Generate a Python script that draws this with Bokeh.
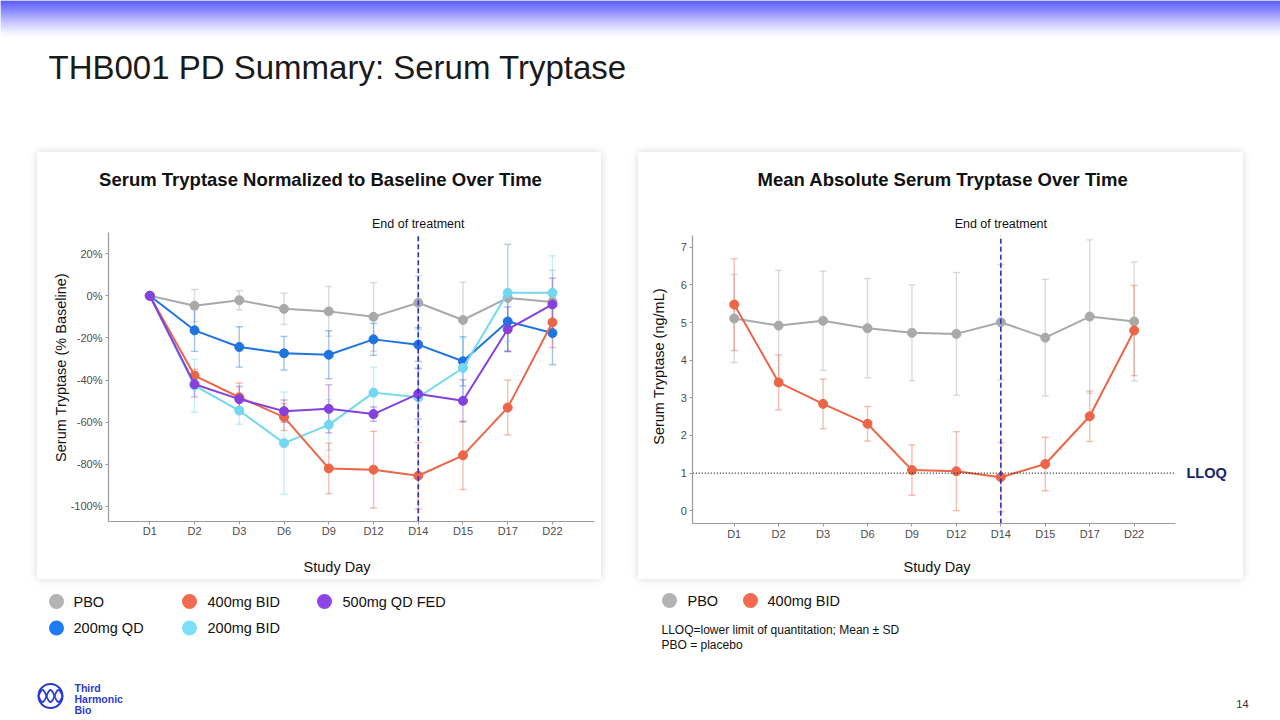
import numpy as np
from bokeh.plotting import figure
from bokeh.models import ColumnDataSource, Whisker, TeeHead, FixedTicker, Range1d, Spacer
from bokeh.layouts import column, row
from bokeh.embed import file_html
from bokeh.resources import INLINE
from bokeh.core.properties import value

FONT = "Liberation Sans"

# ---------------- data ----------------
days = ["D1", "D2", "D3", "D6", "D9", "D12", "D14", "D15", "D17", "D22"]
eot_day = "D14"
pct_ticks = [-100, -80, -60, -40, -20, 0, 20]
abs_ticks = [0, 1, 2, 3, 4, 5, 6, 7]
lloq = 1.0

# Normalized (% of baseline), mean and SD
norm_names = ["PBO", "200mg QD", "200mg BID", "400mg BID", "500mg QD FED"]
norm_pbo_mean = [0, -4.7, -2.1, -6.2, -7.4, -10.0, -3.3, -11.5, -1.0, -2.9]
norm_pbo_sd = [0, 7.7, 4.5, 7.4, 11.8, 16.3, 12.8, 18.0, 25.5, 15.0]
norm_200qd_mean = [0, -16.4, -24.3, -27.3, -28.0, -20.7, -23.2, -31.1, -12.2, -17.7]
norm_200qd_sd = [0, 10.0, 9.6, 8.0, 11.4, 7.6, 8.0, 11.7, 14.0, 15.0]
norm_200bid_mean = [0, -42.7, -54.5, -70.0, -61.3, -46.0, -48.2, -34.3, 1.4, 1.4]
norm_200bid_sd = [0, 12.6, 6.5, 24.3, 12.0, 12.0, 14.0, 14.0, 23.0, 17.6]
norm_400bid_mean = [0, -37.9, -48.2, -57.6, -82.0, -82.6, -85.5, -75.8, -53.1, -12.6]
norm_400bid_sd = [0, 3.0, 6.8, 6.4, 12.0, 18.2, 15.8, 16.2, 13.0, 12.0]
norm_500qd_mean = [0, -42.0, -49.1, -54.8, -53.7, -56.2, -46.6, -49.9, -15.9, -4.1]
norm_500qd_sd = [0, 6.0, 6.0, 5.3, 11.4, 3.4, 12.0, 10.0, 10.6, 12.5]

# Absolute (ng/mL), mean and SD
abs_names = ["PBO", "400mg BID"]
abs_pbo_mean = [5.11, 4.92, 5.05, 4.85, 4.73, 4.70, 5.01, 4.60, 5.16, 5.03]
abs_pbo_sd = [1.17, 1.47, 1.32, 1.32, 1.27, 1.63, 1.53, 1.55, 2.04, 1.58]
abs_400bid_mean = [5.48, 3.41, 2.84, 2.31, 1.08, 1.05, 0.89, 1.24, 2.51, 4.79]
abs_400bid_sd = [1.22, 0.73, 0.66, 0.46, 0.67, 1.05, 0.92, 0.71, 0.67, 1.20]

COL = {"PBO": "#a9a9a9", "200mg QD": "#1f74e0", "200mg BID": "#72d8f2",
       "400mg BID": "#ea6647", "500mg QD FED": "#8640de"}
LEG_COL = {"PBO": "#b3b3b3", "200mg QD": "#1e7cf0", "200mg BID": "#7be0f8",
           "400mg BID": "#f26b50", "500mg QD FED": "#8c46e8"}

xi = list(range(len(days)))
eot_x = days.index(eot_day)

AXIS_COL = "#9a9a9a"
TICK_TXT = "#4d4d4d"
TXT = "#111111"
DASH_COL = "#2a2fd0"


class PanelMap:
    """Maps page pixels to data units for a panel whose frame fills the panel box."""
    def __init__(self, left, top, width, height, x_px0, x_step, y_px0, y_step):
        self.left, self.top, self.width, self.height = left, top, width, height
        self.x_px0, self.x_step, self.y_px0, self.y_step = x_px0, x_step, y_px0, y_step

    def x(self, px):
        return (px - self.x_px0) / self.x_step

    def y(self, py):
        return (self.y_px0 - py) / self.y_step

    def ranges(self):
        return (Range1d(self.x(self.left), self.x(self.left + self.width)),
                Range1d(self.y(self.top + self.height), self.y(self.top)))


def make_panel(m, frame_l, frame_r, frame_t, frame_b, yticks, yover):
    xr, yr = m.ranges()
    p = figure(width=m.width, height=m.height, x_range=xr, y_range=yr,
               output_backend="svg", toolbar_location=None, min_border=0)
    p.xgrid.visible = False
    p.ygrid.visible = False
    p.outline_line_color = None
    p.background_fill_color = "white"
    p.border_fill_color = "white"
    xa, ya = p.xaxis[0], p.yaxis[0]
    xa.fixed_location = m.y(frame_b)
    xa.bounds = (m.x(frame_l), m.x(frame_r))
    ya.fixed_location = m.x(frame_l)
    ya.bounds = (m.y(frame_b), m.y(frame_t))
    xa.ticker = FixedTicker(ticks=xi)
    xa.major_label_overrides = {i: d for i, d in enumerate(days)}
    ya.ticker = FixedTicker(ticks=yticks)
    ya.major_label_overrides = yover
    for ax in (xa, ya):
        ax.axis_line_color = AXIS_COL
        ax.axis_line_width = 1.2
        ax.major_tick_line_color = AXIS_COL
        ax.major_tick_in = 0
        ax.major_tick_out = 3
        ax.minor_tick_line_color = None
        ax.major_label_text_font = FONT
        ax.major_label_text_font_size = "11px"
        ax.major_label_text_color = TICK_TXT
        ax.major_label_standoff = 3
    xa.major_label_standoff = 1
    p.styles = {"box-shadow": "0px 0px 8px rgba(0,0,0,0.16)"}
    return p


def add_series(p, mean, sd, color):
    ex = [x for x, s in zip(xi, sd) if s > 0]
    em = [mv for mv, s in zip(mean, sd) if s > 0]
    es = [s for s in sd if s > 0]
    src = ColumnDataSource(dict(x=ex, upper=[a + b for a, b in zip(em, es)],
                                lower=[a - b for a, b in zip(em, es)]))
    head = dict(size=7, line_color=color, line_alpha=0.42, line_width=1.4)
    p.add_layout(Whisker(base="x", upper="upper", lower="lower", source=src,
                         line_color=color, line_alpha=0.42, line_width=1.4,
                         upper_head=TeeHead(**head), lower_head=TeeHead(**head)))
    p.line(xi, mean, line_color=color, line_width=2)
    p.scatter(xi, mean, size=9, fill_color=color, line_color=color)


def put_text(p, x, y, txt, size, bold=False, color=TXT, align="center", angle=0.0):
    p.text(x=[x], y=[y], text=[txt], text_font=value(FONT), text_font_size=size,
           text_font_style="bold" if bold else "normal", text_color=color,
           text_align=align, text_baseline="middle", angle=angle)


# ---------------- left panel ----------------
mL = PanelMap(37, 152, 564, 427, 149.3, 44.74, 295.3, 2.105)
pL = make_panel(mL, 108, 594.3, 232, 520.7, pct_ticks, {v: f"{v}%" for v in pct_ticks})

norm_data = {"PBO": (norm_pbo_mean, norm_pbo_sd),
             "200mg QD": (norm_200qd_mean, norm_200qd_sd),
             "200mg BID": (norm_200bid_mean, norm_200bid_sd),
             "400mg BID": (norm_400bid_mean, norm_400bid_sd),
             "500mg QD FED": (norm_500qd_mean, norm_500qd_sd)}
for nm in norm_names:
    add_series(pL, *norm_data[nm], COL[nm])

pL.segment(x0=[eot_x], y0=[mL.y(520.7)], x1=[eot_x], y1=[mL.y(235)],
           line_color=DASH_COL, line_dash="5 3", line_width=1.6)
put_text(pL, mL.x(320), mL.y(179), "Serum Tryptase Normalized to Baseline Over Time", "18.5px", bold=True)
put_text(pL, eot_x, mL.y(223.5), "End of treatment", "12.5px")
put_text(pL, mL.x(336.5), mL.y(566), "Study Day", "14.5px")
put_text(pL, mL.x(60), mL.y(367), "Serum Tryptase (% Baseline)", "14.5px", angle=np.pi / 2)

# ---------------- right panel ----------------
mR = PanelMap(638, 152, 605, 427, 733.7, 44.44, 510.2, 37.62)
pR = make_panel(mR, 692.3, 1175, 235, 523.3, abs_ticks, {v: str(v) for v in abs_ticks})

abs_data = {"PBO": (abs_pbo_mean, abs_pbo_sd), "400mg BID": (abs_400bid_mean, abs_400bid_sd)}
for nm in abs_names:
    add_series(pR, *abs_data[nm], COL[nm])

pR.segment(x0=[mR.x(692.3)], y0=[lloq], x1=[mR.x(1175)], y1=[lloq],
           line_color="#222222", line_dash="1 2", line_width=1.3)
pR.segment(x0=[eot_x], y0=[mR.y(523.3)], x1=[eot_x], y1=[mR.y(235)],
           line_color=DASH_COL, line_dash="5 3", line_width=1.6)
put_text(pR, mR.x(942.5), mR.y(179), "Mean Absolute Serum Tryptase Over Time", "18.5px", bold=True)
put_text(pR, eot_x, mR.y(223.5), "End of treatment", "12.5px")
put_text(pR, mR.x(936.5), mR.y(566), "Study Day", "14.5px")
put_text(pR, mR.x(658), mR.y(366), "Serum Tryptase (ng/mL)", "14.5px", angle=np.pi / 2)
put_text(pR, mR.x(1186), lloq, "LLOQ", "14.5px", bold=True, color="#18226e", align="left")

# ---------------- header ----------------
hdr = figure(width=1280, height=152, x_range=Range1d(0, 1280), y_range=Range1d(152, 0),
             x_axis_type=None, y_axis_type=None, output_backend="svg", toolbar_location=None,
             min_border=0)
hdr.outline_line_color = None
hdr.background_fill_alpha = 0
hdr.border_fill_alpha = 0
gy = np.arange(0, 40)
ga = 0.92 * np.clip(1 - gy / 38.0, 0, 1) ** 1.5
hdr.quad(left=0, right=1280, top=gy, bottom=gy + 1, fill_color="#1c1cff", fill_alpha=ga, line_color=None)
hdr.text(x=[48], y=[67], text=["THB001 PD Summary: Serum Tryptase"], text_font=value(FONT),
         text_font_size="33px", text_color="#1a1a1a", text_baseline="middle", text_align="left")

# ---------------- footer ----------------
ftr = figure(width=1280, height=141, x_range=Range1d(0, 1280), y_range=Range1d(720, 579),
             x_axis_type=None, y_axis_type=None, output_backend="svg", toolbar_location=None,
             min_border=0)
ftr.outline_line_color = None
ftr.background_fill_alpha = 0
ftr.border_fill_alpha = 0

leg_left_order = ["PBO", "400mg BID", "500mg QD FED", "200mg QD", "200mg BID"]
leg_left_cx = [56, 189, 324, 56, 189]
leg_left_tx = [73, 207, 342, 73, 207]
leg_left_y = [601, 601, 601, 627.5, 627.5]
ftr.scatter(leg_left_cx, leg_left_y, size=15, fill_color=[LEG_COL[n] for n in leg_left_order], line_color=None)
ftr.text(leg_left_tx, leg_left_y, text=leg_left_order, text_font=value(FONT), text_font_size="14.5px",
         text_color=TXT, text_baseline="middle", text_align="left")

leg_right_cx = [669, 750]
leg_right_tx = [687, 767]
ftr.scatter(leg_right_cx, [600, 600], size=15, fill_color=[LEG_COL[n] for n in abs_names], line_color=None)
ftr.text(leg_right_tx, [600, 600], text=abs_names, text_font=value(FONT), text_font_size="14.5px",
         text_color=TXT, text_baseline="middle", text_align="left")

ftr.text([661, 661], [629.5, 644.5],
         text=["LLOQ=lower limit of quantitation; Mean \u00b1 SD", "PBO = placebo"],
         text_font=value(FONT), text_font_size="12px", text_color=TXT,
         text_baseline="middle", text_align="left")

ftr.text([1248], [703], text=["14"], text_font=value(FONT), text_font_size="11px",
         text_color="#333333", text_baseline="middle", text_align="right")

# logo
LOGO = "#2a3bd1"
ftr.circle(x=[50], y=[695.5], radius=12, fill_color=None, line_color=LOGO, line_width=2)
t = np.linspace(0, 1, 60)
wx = 38 + 24 * t
ftr.line(wx, 695.5 + 6 * np.sin(2 * np.pi * 1.5 * t), line_color=LOGO, line_width=1.8)
ftr.line(wx, 695.5 - 6 * np.sin(2 * np.pi * 1.5 * t), line_color=LOGO, line_width=1.8)
ftr.text([74, 74, 74], [687, 698, 709], text=["Third", "Harmonic", "Bio"], text_font=value(FONT),
         text_font_size="10.5px", text_font_style="bold", text_color=LOGO,
         text_baseline="middle", text_align="left")

mid = row(Spacer(width=37, height=427), pL, Spacer(width=37, height=427), pR, Spacer(width=37, height=427))
page = column(hdr, mid, ftr)

open("out.html", "w").write(file_html(page, INLINE))
